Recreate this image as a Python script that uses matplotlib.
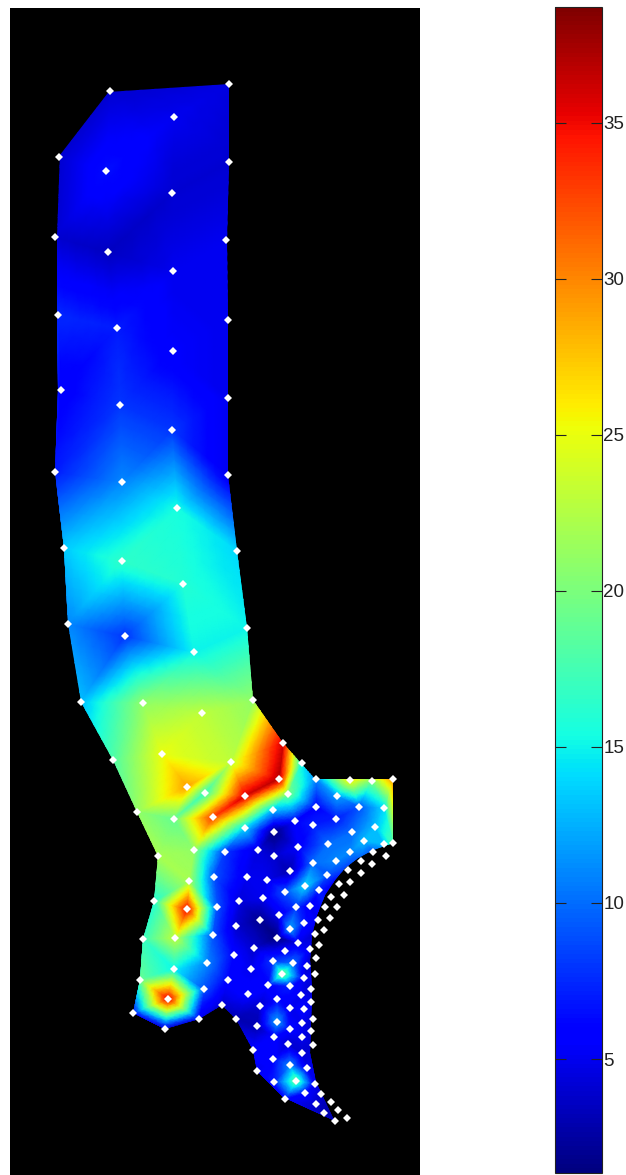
import numpy as np
import matplotlib
matplotlib.use("Agg")
import matplotlib.pyplot as plt
import matplotlib.tri as mtri
from matplotlib.patches import Polygon

# sample points (x, y, measured value)
upper_x = [110, 229, 174, 59, 229, 106, 172, 55, 226, 108, 173, 58, 228, 117, 173, 61, 228, 120, 172, 55,
           228, 122, 177, 64, 237, 122, 183, 68, 247, 125, 194, 81, 253, 143, 202, 113, 162]
upper_y = [91, 84, 117, 157, 162, 171, 193, 237, 240, 252, 271, 315, 320, 328, 351, 390, 398, 405, 430, 472,
           475, 482, 508, 548, 551, 561, 584, 624, 628, 636, 652, 702, 700, 703, 713, 760, 754]
upper_v = [4, 4.5, 5, 4, 4, 6.5, 4, 4, 5, 3.5, 5, 7.5, 5, 7, 5.5, 5.5, 5, 8, 8, 7,
           5, 11, 15.5, 13.5, 14, 16.5, 16, 11, 15, 8, 15, 13, 21, 21, 23, 18, 25]

middle_x = [283, 231, 302, 279, 316, 350, 372, 393, 187, 205, 245, 288, 337, 137, 273, 316, 359, 384, 174, 213,
            295, 336, 245, 313, 375, 274, 352, 364, 328, 298, 384, 393, 258, 225, 194, 158, 274, 350, 373, 386,
            361, 336, 313, 372, 348, 290, 361, 327, 214, 247, 267, 189, 350, 339, 305, 319, 285, 344, 331, 263,
            154, 239, 217, 187, 296, 310, 325, 337, 279, 330, 260, 318, 304, 236, 290, 324, 315, 213, 277, 175, 143]
middle_y = [743, 762, 763, 779, 779, 780, 781, 779, 787, 793, 796, 794, 796, 812, 810, 807, 807, 808, 819, 817,
            821, 819, 828, 825, 827, 832, 832, 841, 844, 847, 844, 843, 850, 852, 850, 856, 856, 852, 852, 856,
            861, 861, 863, 864, 870, 871, 873, 875, 877, 877, 880, 881, 882, 884, 886, 890, 892, 895, 897, 898,
            901, 901, 907, 909, 907, 906, 907, 907, 915, 918, 920, 920, 923, 926, 929, 930, 934, 935, 938, 938, 939]
middle_v = [36, 23, 15, 37, 11, 26, 20, 30, 29, 17, 36, 20, 12, 21, 13, 6, 9, 14, 19, 33,
            6, 7, 14, 7, 13, 1.5, 10, 13, 10, 5.5, 13, 18, 4.5, 8, 21, 22, 4, 11, 9, 11,
            9, 11, 10, 8, 8, 3, 5, 9, 9, 5, 5, 22, 5, 5, 14, 7, 9, 5, 6, 5,
            16, 4.5, 9, 35, 8, 5, 7, 5, 5, 3, 2, 5, 7, 4, 12, 4, 4, 9, 1.5, 23, 17]

lower_x = [298, 319, 254, 310, 285, 316, 234, 273, 293, 207, 307, 251, 174, 282, 315, 304, 228, 140, 268, 290,
           311, 204, 248, 301, 168, 277, 311, 222, 260, 290, 304, 133, 313, 199, 236, 277, 302, 257, 165, 290,
           311, 274, 302, 288, 313, 253, 302, 273, 290, 307, 257, 296, 274, 315, 305, 321, 285, 316, 331, 338,
           324, 347, 335]
lower_y = [943, 945, 948, 949, 951, 958, 955, 961, 963, 963, 966, 969, 969, 974, 974, 978, 980, 980, 985, 986,
           989, 989, 994, 995, 999, 999, 1002, 1005, 1006, 1008, 1009, 1013, 1019, 1019, 1019, 1022, 1023, 1026, 1029, 1029,
           1031, 1037, 1037, 1044, 1045, 1050, 1053, 1059, 1065, 1068, 1071, 1081, 1082, 1084, 1093, 1094, 1099, 1104, 1102, 1110,
           1113, 1118, 1121]
lower_v = [5, 4, 4, 5, 6, 4, 6, 8, 10, 11, 4, 5, 15, 20, 5, 5, 6, 19, 6, 7,
           4, 9, 6, 5, 36, 6, 5, 4, 4, 5, 6, 6, 4, 5, 3, 12, 5, 3, 4, 6,
           4, 6, 5, 4, 4, 6, 4, 6, 11, 5, 5, 19, 7, 5, 6, 4, 6, 4, 3, 3,
           3, 3, 3]

# edge of the measured area
outline_x = [108, 229, 229, 227, 228, 228, 228, 237, 247, 253, 283, 315, 393, 393, 373, 358, 345, 335, 325, 317,
             312, 310, 312, 310, 316, 333, 335, 283, 257, 253, 236, 222, 199, 165, 133, 140, 143, 154, 158, 137,
             113, 81, 68, 64, 55, 58, 57, 57, 60]
outline_y = [92, 84, 162, 240, 320, 398, 475, 551, 628, 700, 743, 779, 779, 843, 850, 858, 868, 880, 895, 915,
             935, 960, 990, 1053, 1082, 1118, 1121, 1097, 1071, 1050, 1019, 1005, 1019, 1029, 1013, 980, 939, 901, 856, 812,
             760, 702, 624, 548, 472, 390, 315, 237, 152]

cbar_ticks = [5, 10, 15, 20, 25, 30, 35]
vmin, vmax = 1.35, 38.7

x = np.array(upper_x + middle_x + lower_x, dtype=float)
y = np.array(upper_y + middle_y + lower_y, dtype=float)
v = np.array(upper_v + middle_v + lower_v, dtype=float)

W, H = 626, 1175
fig = plt.figure(figsize=(W / 100, H / 100), dpi=100)
ax = fig.add_axes([10 / W, 0, 410 / W, (H - 8) / H], facecolor="black")

# refine so colours follow the value, not a straight rgb blend between points
tri = mtri.Triangulation(x, y)
refiner = mtri.UniformTriRefiner(tri)
fine_tri, fine_v = refiner.refine_field(v, triinterpolator=mtri.LinearTriInterpolator(tri, v), subdiv=3)
mesh = ax.tripcolor(fine_tri, fine_v, shading="gouraud", cmap="jet", vmin=vmin, vmax=vmax)
clip = Polygon(np.column_stack([outline_x, outline_y]), closed=True, transform=ax.transData,
               facecolor="none", edgecolor="none")
ax.add_patch(clip)
mesh.set_clip_path(clip)

ax.plot(x, y, ls="none", marker="D", ms=3.8, mfc="white", mec="white", mew=0)
ax.set_xlim(10, 420)
ax.set_ylim(1175, 8)
ax.set_xticks([])
ax.set_yticks([])
for s in ax.spines.values():
    s.set_visible(False)

# colorbar
cax = fig.add_axes([555 / W, 2 / H, 47 / W, (1173 - 7) / H])
cb = fig.colorbar(mesh, cax=cax)
cb.set_ticks(cbar_ticks)
cax.tick_params(axis="y", direction="in", left=True, right=True, length=8, width=0.8,
                color="#222222", labelsize=13.5, labelcolor="#222222", pad=1)
for label in cax.get_yticklabels():
    label.set_family("Liberation Sans")
cb.outline.set_linewidth(0.8)
cb.outline.set_edgecolor("#222222")

fig.savefig("out.png", dpi=100)
